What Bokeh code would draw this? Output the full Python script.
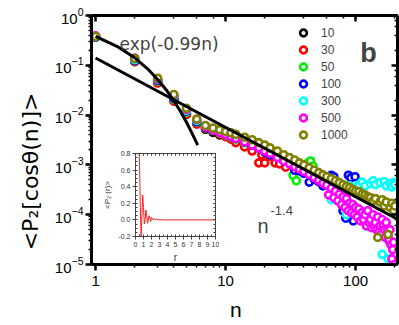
from bokeh.plotting import figure
from bokeh.models import (LogAxis, LinearAxis, Legend, LegendItem, Label,
                          CustomJSTickFormatter, FixedTicker, Range1d, LogTicker)
from bokeh.embed import file_html
from bokeh.resources import INLINE

# ---------------- data ----------------
series_labels = ["10", "30", "50", "100", "300", "500", "1000"]
series_colors = ["#000000", "#ff0000", "#00ee00", "#0000ff", "#00ffff", "#ff00ff", "#808000"]

n_10 = [1, 2, 3, 4, 5, 6, 7, 8, 9]
v_10 = [0.37, 0.12, 0.046, 0.020, 0.0105, 0.0068, 0.0052, 0.0045, 0.0040]

n_30 = [1, 2, 3, 4, 5, 6, 7, 8, 9, 10, 11, 12, 14, 16, 18, 19, 20, 22, 24, 25, 26, 28, 29]
v_30 = [0.37, 0.118, 0.044, 0.019, 0.0103, 0.0066, 0.0055, 0.0049, 0.0042, 0.0037,
        0.0033, 0.0028, 0.0023, 0.0019, 0.0011, 0.0016, 0.0011, 0.0015, 0.0011, 0.0017,
        0.00105, 0.0013, 0.0009]

n_50 = [1, 2, 3, 4, 5, 6, 7, 8, 9, 10, 11, 12, 14, 16, 18, 20, 22, 25, 28, 31, 33, 35,
        37, 40, 43, 45, 47, 49]
v_50 = [0.37, 0.125, 0.048, 0.021, 0.0115, 0.0072, 0.0056, 0.0049, 0.0044, 0.0040,
        0.0036, 0.0033, 0.0028, 0.0026, 0.0023, 0.0022, 0.0019, 0.0016, 0.0013, 0.0011,
        0.00062, 0.00048, 0.00085, 0.00078, 0.0011, 0.0012, 0.00095, 0.0006]

n_100 = [1, 2, 3, 4, 5, 6, 7, 8, 9, 10, 11, 12, 14, 16, 18, 20, 22, 25, 28, 31, 34, 37,
         40, 44, 48, 52, 56, 60, 65, 68, 72, 76, 80, 84, 88, 92, 96, 99]
v_100 = [0.37, 0.125, 0.05, 0.022, 0.012, 0.0074, 0.0057, 0.005, 0.0045, 0.0041, 0.0037,
         0.0034, 0.0029, 0.0025, 0.0022, 0.0018, 0.0016, 0.0015, 0.0012, 0.0011, 0.00078,
         0.00076, 0.00068, 0.00045, 0.00052, 0.00046, 0.00038, 0.0004, 0.00062, 0.00058,
         0.0003, 0.00019, 0.00012, 0.000085, 0.00062, 0.00055, 0.000075, 0.00058]

n_300 = [1, 2, 3, 4, 5, 6, 7, 8, 9, 10, 11, 12, 14, 16, 18, 20, 22, 25, 28, 31, 34, 37,
         40, 44, 48, 52, 56, 60, 65, 70, 75, 80, 85, 90, 95, 100, 106, 112, 118, 124, 130,
         136, 142, 148, 154, 160, 166, 172, 178, 184, 190, 196, 200]
v_300 = [0.375, 0.13, 0.052, 0.024, 0.0125, 0.0078, 0.006, 0.0052, 0.0047, 0.0044,
         0.0041, 0.0038, 0.0033, 0.0029, 0.0026, 0.0023, 0.002, 0.0017, 0.0015, 0.0013,
         0.00115, 0.00098, 0.0009, 0.00078, 0.0007, 0.00058, 0.00048, 0.00046, 0.0002,
         0.00036, 0.00028, 0.00022, 0.0001, 0.00038, 0.00032, 0.00035, 0.0004, 0.00045,
         0.00038, 0.000058, 0.00042, 0.00048, 0.0004, 0.000048, 0.00044, 0.000016,
         0.00046, 0.00038, 0.000013, 0.00042, 0.00036, 0.00044, 0.0004]

n_500 = [1, 2, 3, 4, 5, 6, 7, 8, 9, 10, 11, 12, 14, 16, 18, 20, 22, 25, 28, 31, 34, 37,
         40, 44, 48, 52, 56, 60, 62, 65, 68, 70, 73, 75, 78, 80, 83, 85, 88, 90, 93, 95,
         98, 100, 103, 106, 109, 112, 115, 118, 121, 124, 127, 130, 133, 136, 139, 142,
         145, 148, 151, 154, 157, 160, 163, 166, 169, 172, 175, 178, 181, 184, 187, 190,
         193, 196, 200]
v_500 = [0.39, 0.14, 0.053, 0.025, 0.013, 0.0082, 0.0058, 0.005, 0.0045, 0.0041, 0.0037,
         0.0034, 0.0029, 0.0025, 0.0022, 0.0019, 0.0017, 0.0014, 0.0012, 0.00105, 0.00092,
         0.00082, 0.00074, 0.00064, 0.00056, 0.00049, 0.00043, 0.00039, 0.00025, 0.00034,
         0.00022, 0.0003, 0.00019, 0.00026, 0.00016, 0.00023, 0.00014, 0.00021, 0.00012,
         0.00017, 0.00011, 0.00016, 0.0001, 0.00014, 0.00009, 0.00013, 0.000075, 0.00011,
         0.00008, 0.0001, 0.00006, 0.00012, 0.00007, 0.00008, 0.000055, 0.0001, 0.00006,
         0.00007, 0.00005, 0.00009, 0.000045, 0.00006, 0.00004, 0.00008, 0.00006, 0.00005,
         0.000035, 0.00007, 0.00005, 0.000035, 0.00003, 0.00005, 0.000025, 0.000013,
         0.00002, 0.000028, 0.00001]

n_1000 = [1, 2, 3, 4, 5, 6, 7, 8, 9, 10, 11, 12, 14, 16, 18, 20, 22, 25, 28, 31, 34, 37,
          40, 44, 48, 52, 56, 60, 65, 70, 75, 80, 85, 90, 95, 100, 106, 112, 118, 124, 130,
          136, 142, 148, 154, 160, 166, 172, 178, 184, 190, 196, 200]
v_1000 = [0.38, 0.137, 0.055, 0.026, 0.0137, 0.0083, 0.0062, 0.0055, 0.0051, 0.0047,
          0.0044, 0.0041, 0.0036, 0.0032, 0.0028, 0.0025, 0.0022, 0.0019, 0.0016, 0.0014,
          0.00125, 0.0011, 0.001, 0.00088, 0.00078, 0.0007, 0.00063, 0.00058, 0.00053,
          0.00048, 0.00044, 0.0004, 0.00037, 0.00035, 0.00032, 0.0003, 0.00029, 0.00026,
          0.00025, 0.00023, 0.00022, 0.00019, 0.00021, 0.000035, 0.00018, 0.0002, 0.00015,
          0.00018, 0.00004, 0.00014, 0.00017, 0.00012, 0.00015]

series_n = [n_10, n_30, n_50, n_100, n_300, n_500, n_1000]
series_v = [v_10, v_30, v_50, v_100, v_300, v_500, v_1000]

# fitted curves as drawn
exp_n = [1, 1.5, 2, 2.5, 3, 3.5, 4, 4.5, 5, 5.5, 6.1]
exp_v = [0.38, 0.231, 0.141, 0.086, 0.052, 0.032, 0.0194, 0.0118, 0.0072, 0.0044, 0.0025]
pow_n = [1, 210]
pow_v = [0.14, 0.0000815]

# inset: <P2(r)>
r_vals = [0.45, 0.5, 0.6, 0.7, 0.8, 0.9, 1.0, 1.1, 1.2, 1.3, 1.4, 1.5, 1.6, 1.7, 1.8,
          1.9, 2.0, 2.1, 2.2, 2.3, 2.4, 2.5, 2.6, 2.8, 3.0, 3.3, 3.6, 4.0, 5.0, 6.0, 7.0,
          8.0, 9.0, 10.0]
p2_vals = [0.8, 0.7, 0.15, -0.2, 0.05, 0.3, 0.15, -0.05, 0.0, 0.12, 0.05, -0.04,
           0.0, 0.05, 0.02, -0.02, 0.03, 0.02, 0.0, 0.01, 0.015, 0.0, 0.008, 0.005,
           0.0, 0.003, 0.0, 0.0, 0.0, 0.0, 0.0, 0.0, 0.0, 0.0]

FONT = "Liberation Sans"
NB = "\u00a0"

# ---------------- main figure ----------------
p = figure(width=399, height=325, x_axis_type="log", y_axis_type="log",
           x_range=Range1d(0.93, 210), y_range=Range1d(1e-5, 1),
           output_backend="svg", toolbar_location=None,
           min_border_left=91, min_border_right=2, min_border_top=15, min_border_bottom=61)
p.outline_line_color = None
p.grid.visible = False
p.background_fill_color = "white"
p.border_fill_color = "white"

p.xaxis.formatter = CustomJSTickFormatter(code="return String(Math.round(tick));")

for ax in (p.xaxis[0], p.yaxis[0]):
    ax.axis_line_width = 3
    ax.major_tick_out = 6
    ax.major_tick_in = 0
    ax.minor_tick_out = 3
    ax.minor_tick_in = 0
    ax.major_tick_line_width = 2.5
    ax.minor_tick_line_width = 1.5
    ax.major_label_text_font = FONT
    ax.major_label_text_font_size = "15px"
    ax.major_label_text_color = "black"
    ax.axis_label_text_font_style = "normal"
    ax.axis_label_text_color = "black"
p.xaxis.major_label_standoff = 5
p.yaxis.major_label_standoff = 2

p.xaxis.axis_label = "n" + NB * 3
p.xaxis.axis_label_text_font = FONT
p.xaxis.axis_label_text_font_size = "21px"
p.xaxis.axis_label_standoff = 9

p.yaxis.axis_label = "<P\u2082[cos\u03b8(n)]>" + NB * 9
p.yaxis.axis_label_text_font = "DejaVu Sans"
p.yaxis.axis_label_text_font_size = "22px"
p.yaxis.axis_label_standoff = 9

for loc in ("above", "right"):
    ax = LogAxis(ticker=LogTicker(),
                 formatter=CustomJSTickFormatter(code="return ''"),
                 major_label_text_font_size="0px", major_label_standoff=0,
                 major_tick_in=6, major_tick_out=0, minor_tick_in=3, minor_tick_out=0,
                 axis_line_width=3, major_tick_line_width=2.5, minor_tick_line_width=1.5)
    p.add_layout(ax, loc)

items = []
for lab, col, nn, vv in zip(series_labels, series_colors, series_n, series_v):
    r = p.scatter(nn, vv, marker="circle", size=7, line_color=col, line_width=2.6,
                  fill_color="white")
    items.append(LegendItem(label=lab, renderers=[r]))

p.line(exp_n, exp_v, line_color="black", line_width=3)
p.line(pow_n, pow_v, line_color="black", line_width=3)

legend = Legend(items=items, location=(203, 121), padding=0, margin=0, spacing=0,
                glyph_width=18, glyph_height=17, label_height=17, label_standoff=9,
                label_text_font=FONT, label_text_font_size="12px",
                border_line_color=None, background_fill_alpha=0)
p.add_layout(legend, "center")

p.add_layout(Label(x=28, y=221, x_units="screen", y_units="screen", text="exp(-0.99n)",
                   text_font="DejaVu Sans", text_font_size="17px",
                   text_baseline="alphabetic"))
p.add_layout(Label(x=277, y=212, x_units="screen", y_units="screen", text="b",
                   text_font=FONT, text_font_size="27px", text_font_style="bold",
                   text_align="center", text_baseline="alphabetic"))
p.add_layout(Label(x=166, y=39, x_units="screen", y_units="screen", text="n",
                   text_font=FONT, text_font_size="20px", text_baseline="alphabetic"))
p.add_layout(Label(x=179, y=54, x_units="screen", y_units="screen", text="-1.4",
                   text_font=FONT, text_font_size="13px", text_baseline="alphabetic"))

# ---------------- inset (separate root, placed over the main plot) ----------------
ins = figure(width=119, height=117, x_range=Range1d(0, 10), y_range=Range1d(-0.2, 0.8),
             output_backend="svg", toolbar_location=None,
             min_border_left=27, min_border_right=4, min_border_top=5, min_border_bottom=25,
             border_fill_color=None, background_fill_color="white",
             styles={"position": "absolute", "left": "100px", "top": "148px",
                     "z-index": "10"})
ins.outline_line_color = None
ins.grid.visible = False

xt = FixedTicker(ticks=list(range(0, 11)), minor_ticks=[i * 0.5 for i in range(21)])
yt = FixedTicker(ticks=[-0.2, 0.0, 0.2, 0.4, 0.6, 0.8],
                 minor_ticks=[-0.2 + i * 0.05 for i in range(21)])
ins.xaxis.ticker = xt
ins.yaxis.ticker = yt
ins.yaxis.formatter = CustomJSTickFormatter(code="return tick.toFixed(1);")
for ax in (ins.xaxis[0], ins.yaxis[0]):
    ax.axis_line_color = "#444444"
    ax.axis_line_width = 1
    ax.major_tick_line_color = "#444444"
    ax.minor_tick_line_color = "#444444"
    ax.major_tick_out = 3
    ax.major_tick_in = 0
    ax.minor_tick_out = 0
    ax.minor_tick_in = 2
    ax.major_label_text_font = FONT
    ax.major_label_text_font_size = "7px"
    ax.major_label_text_color = "#333333"
    ax.major_label_standoff = 2
    ax.axis_label_text_font = FONT
    ax.axis_label_text_font_style = "normal"
    ax.axis_label_text_color = "#333333"
ins.xaxis.axis_label = "r"
ins.xaxis.axis_label_text_font_size = "10px"
ins.xaxis.axis_label_standoff = 2
ins.yaxis.axis_label = "<P\u2082 (r)>"
ins.yaxis.axis_label_text_font_size = "8px"
ins.yaxis.axis_label_standoff = 3

for loc, tk in (("above", xt), ("right", yt)):
    ax = LinearAxis(ticker=tk, formatter=CustomJSTickFormatter(code="return ''"),
                    major_label_text_font_size="0px", major_label_standoff=0,
                    major_tick_in=2, major_tick_out=0, minor_tick_in=2, minor_tick_out=0,
                    axis_line_color="#444444", major_tick_line_color="#444444",
                    minor_tick_line_color="#444444", axis_line_width=1)
    ins.add_layout(ax, loc)

ins.line(r_vals, p2_vals, line_color="#ff2020", line_width=1)

open("out.html", "w").write(file_html([p, ins], INLINE))
